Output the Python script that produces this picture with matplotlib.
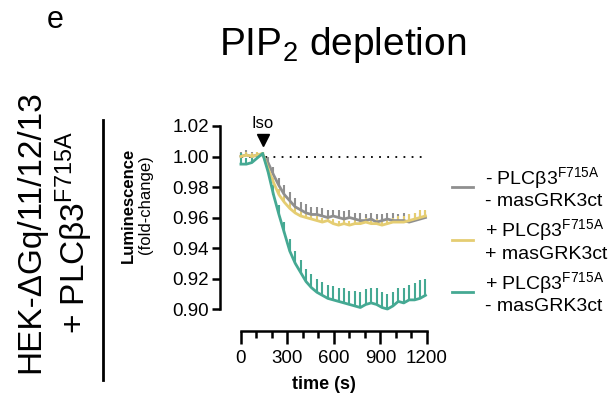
import matplotlib
matplotlib.use("Agg")
import matplotlib.pyplot as plt
from matplotlib.lines import Line2D
import numpy as np

plt.rcParams['font.family'] = ['Liberation Sans', 'DejaVu Sans']
plt.rcParams['mathtext.fontset'] = 'custom'
plt.rcParams['mathtext.rm'] = 'Liberation Sans'
plt.rcParams['mathtext.it'] = 'Liberation Sans'
plt.rcParams['mathtext.bf'] = 'Liberation Sans:bold'

# ---------------- data ----------------
time_s = [0, 35, 70, 105, 140, 175, 210, 245, 280, 315, 350, 385, 420, 455, 490,
          525, 560, 595, 630, 665, 700, 735, 770, 805, 840, 875, 910, 945, 980,
          1015, 1050, 1085, 1120, 1155, 1190]

grey_mean = [1.000, 1.001, 1.000, 1.001, 1.001, 0.996, 0.988, 0.981, 0.975, 0.971,
             0.967, 0.965, 0.963, 0.962, 0.962, 0.961, 0.960, 0.961, 0.960, 0.959,
             0.960, 0.959, 0.958, 0.958, 0.959, 0.957, 0.958, 0.959, 0.958, 0.958,
             0.958, 0.957, 0.958, 0.959, 0.960]
grey_err = [0.003, 0.003, 0.003, 0.002, 0.002, 0.004, 0.005, 0.005, 0.006, 0.006,
            0.006, 0.005, 0.006, 0.005, 0.005, 0.005, 0.005, 0.004, 0.005, 0.005,
            0.005, 0.004, 0.005, 0.004, 0.004, 0.005, 0.004, 0.004, 0.005, 0.004,
            0.005, 0.005, 0.005, 0.004, 0.004]

yellow_mean = [1.000, 1.001, 1.000, 1.001, 1.002, 0.992, 0.983, 0.975, 0.970, 0.966,
               0.963, 0.961, 0.960, 0.959, 0.958, 0.957, 0.958, 0.956, 0.955, 0.956,
               0.955, 0.956, 0.956, 0.957, 0.956, 0.956, 0.955, 0.956, 0.957, 0.957,
               0.957, 0.958, 0.959, 0.960, 0.961]
yellow_err = [0.002, 0.002, 0.002, 0.002, 0.001, 0.003, 0.003, 0.004, 0.004, 0.004,
              0.004, 0.004, 0.003, 0.004, 0.003, 0.003, 0.003, 0.003, 0.003, 0.003,
              0.003, 0.003, 0.003, 0.003, 0.004, 0.003, 0.003, 0.003, 0.003, 0.004,
              0.004, 0.004, 0.004, 0.005, 0.004]

teal_mean = [0.995, 0.995, 0.996, 0.999, 1.002, 0.990, 0.975, 0.962, 0.950, 0.938,
             0.930, 0.924, 0.918, 0.914, 0.911, 0.909, 0.907, 0.906, 0.905, 0.904,
             0.903, 0.902, 0.901, 0.903, 0.904, 0.903, 0.901, 0.900, 0.902, 0.905,
             0.904, 0.906, 0.906, 0.907, 0.909]
teal_err = [0.007, 0.004, 0.003, 0.002, 0.001, 0.004, 0.006, 0.006, 0.007, 0.008,
            0.008, 0.008, 0.008, 0.009, 0.009, 0.009, 0.009, 0.009, 0.009, 0.010,
            0.009, 0.010, 0.010, 0.010, 0.010, 0.011, 0.010, 0.010, 0.009, 0.009,
            0.010, 0.010, 0.011, 0.012, 0.011]

labels = ["- PLCβ3$^{\\mathrm{F715A}}$\n- masGRK3ct",
          "+ PLCβ3$^{\\mathrm{F715A}}$\n+ masGRK3ct",
          "+ PLCβ3$^{\\mathrm{F715A}}$\n- masGRK3ct"]
colors = ["#8f8f8f", "#e5cd72", "#45a993"]

x_ticks = [0, 300, 600, 900, 1200]
y_ticks = [0.90, 0.92, 0.94, 0.96, 0.98, 1.00, 1.02]
iso_time = 140

# ---------------- figure ----------------
fig = plt.figure(figsize=(6.11, 3.97), dpi=100)
ax = fig.add_axes([220 / 611, 66 / 397, 207 / 611, (331 - 126) / 397])

ax.set_xlim(-135, 1200)
ax.set_ylim(0.8856, 1.02)

series = [(grey_mean, grey_err), (yellow_mean, yellow_err), (teal_mean, teal_err)]
handles = []
for (m, e), c, lab in zip(series, colors, labels):
    m = np.array(m)
    e = np.array(e)
    ax.errorbar(time_s, m, yerr=[np.zeros_like(e), e], color=c, lw=2.0,
                elinewidth=1.5, capsize=0, clip_on=False)
    handles.append(Line2D([0], [0], color=c, lw=2))

# baseline
ax.plot([0, 1200], [1.0, 1.0], color='black', lw=1.3, ls=(0, (1, 3.5)), zorder=0)

# Iso marker
ax.plot([iso_time], [1.0105], marker='v', color='black', ms=9, clip_on=False)
ax.text(iso_time, 1.017, "Iso", ha='center', va='bottom', fontsize=12)

# spines
for s in ['top', 'right']:
    ax.spines[s].set_visible(False)
ax.spines['left'].set_bounds(0.90, 1.02)
ax.spines['bottom'].set_bounds(0, 1200)
ax.spines['left'].set_linewidth(1.8)
ax.spines['bottom'].set_linewidth(1.8)

ax.set_yticks(y_ticks)
ax.set_yticklabels([f"{v:.2f}" for v in y_ticks])
ax.set_xticks(x_ticks)
ax.set_xticklabels([str(v) for v in x_ticks])
ax.set_xticks(np.arange(0, 1201, 100), minor=True)
ax.tick_params(axis='both', which='major', labelsize=13.5, width=1.8, color='black')
ax.tick_params(axis='y', which='major', length=6, pad=2)
ax.tick_params(axis='x', which='major', length=9, pad=5)
ax.tick_params(axis='x', which='minor', length=5, width=1.8)

ax.set_xlabel("time (s)", fontsize=13, fontweight='bold', labelpad=6)

# y label (two lines, first bold)
fig.text(128 / 611, 1 - 205 / 397, "Luminescence", rotation=90, ha='center',
         va='center', fontsize=12, fontweight='bold')
fig.text(146 / 611, 1 - 205 / 397, "(fold-change)", rotation=90, ha='center',
         va='center', fontsize=12)

# legend
ax.legend(handles, labels, loc='upper left', bbox_to_anchor=(452 / 611, 1 - 165 / 397),
          bbox_transform=fig.transFigure, frameon=False, fontsize=14,
          handlelength=1.1, handletextpad=0.6, labelspacing=0.35,
          borderaxespad=0, borderpad=0)

# title
fig.text(343 / 611, 1 - 45 / 397, "PIP$_{\\mathrm{2}}$ depletion", ha='center',
         va='center', fontsize=28)

# panel letter
fig.text(55 / 611, 1 - 20 / 397, "e", ha='center', va='center', fontsize=22)

# left condition label
fig.text(31 / 611, 1 - 232 / 397, "HEK-ΔGq/11/12/13", rotation=90, ha='center',
         va='center', fontsize=24)
fig.text(74 / 611, 1 - 233 / 397, "+ PLCβ3$^{\\mathrm{F715A}}$", rotation=90,
         ha='center', va='center', fontsize=24)
fig.add_artist(Line2D([103 / 611, 103 / 611], [1 - 120 / 397, 1 - 380 / 397],
                      transform=fig.transFigure, color='black', lw=2))

fig.savefig("out.png", dpi=100)
